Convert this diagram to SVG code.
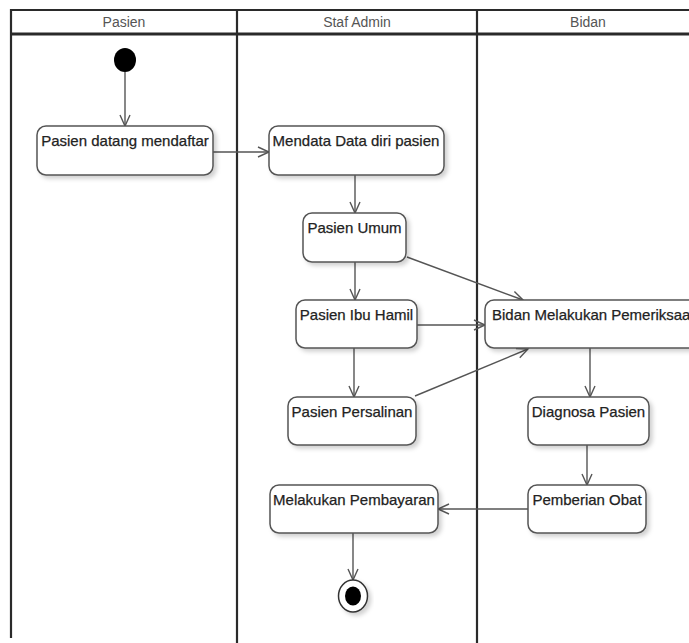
<svg xmlns="http://www.w3.org/2000/svg" width="689" height="643" viewBox="0 0 689 643">
<style>
.lane{stroke:#2a2a2a;stroke-width:2.2;fill:none}
.hdr{font-family:"Liberation Sans",Arial,sans-serif;font-size:14px;fill:#555;text-anchor:middle}
.box{fill:#fff;stroke:#555;stroke-width:1.5;filter:url(#sh)}
.lbl{font-family:"Liberation Sans",Arial,sans-serif;font-size:15px;fill:#222;text-anchor:middle;stroke:#222;stroke-width:0.25}
.con{stroke:#555;stroke-width:1.4;fill:none;marker-end:url(#arr)}
</style>
<defs>
<filter id="sh" x="-10%" y="-20%" width="130%" height="150%">
<feDropShadow dx="3" dy="3" stdDeviation="2" flood-color="#000" flood-opacity="0.18"/>
</filter>
<marker id="arr" markerUnits="userSpaceOnUse" markerWidth="14" markerHeight="14" viewBox="0 0 14 14" refX="12" refY="7" orient="auto">
<path d="M1,2 L12,7 L1,12" fill="none" stroke="#555" stroke-width="1.4"/>
</marker>
</defs>
<rect width="689" height="643" fill="#fff"/>
<g id="lanes">
<line class="lane" x1="11" y1="10" x2="689" y2="10"/>
<line class="lane" x1="11" y1="34" x2="689" y2="34" style="stroke-width:2.8"/>
<line class="lane" x1="11" y1="9" x2="11" y2="638"/>
<line class="lane" x1="237" y1="9" x2="237" y2="643"/>
<line class="lane" x1="477" y1="9" x2="477" y2="643"/>
<text class="hdr" x="124" y="27">Pasien</text>
<text class="hdr" x="357" y="27">Staf Admin</text>
<text class="hdr" x="588" y="27">Bidan</text>
</g>
<g id="connectors">
<line class="con" x1="125" y1="72" x2="125" y2="126"/>
<line class="con" x1="213" y1="152" x2="269" y2="152"/>
<line class="con" x1="355" y1="175" x2="355" y2="213"/>
<line class="con" x1="407" y1="257" x2="523" y2="300"/>
<line class="con" x1="355" y1="262" x2="355" y2="300"/>
<line class="con" x1="417" y1="325" x2="485" y2="325"/>
<line class="con" x1="354" y1="348" x2="354" y2="397"/>
<line class="con" x1="415" y1="396" x2="528" y2="349"/>
<line class="con" x1="590" y1="348" x2="590" y2="397"/>
<line class="con" x1="587" y1="445" x2="587" y2="485"/>
<line class="con" x1="528" y1="509" x2="438" y2="509"/>
<line class="con" x1="353" y1="533" x2="353" y2="580"/>
</g>
<g id="start"><ellipse cx="125" cy="60" rx="11" ry="12" fill="#000"/></g>
<g id="n1"><rect class="box" x="37" y="126" width="176" height="49" rx="9"/><text class="lbl" x="125" y="146">Pasien datang mendaftar</text></g>
<g id="n2"><rect class="box" x="269" y="126" width="175" height="49" rx="9"/><text class="lbl" x="356" y="146">Mendata Data diri pasien</text></g>
<g id="n3"><rect class="box" x="303" y="213" width="103" height="49" rx="9"/><text class="lbl" x="354.5" y="233">Pasien Umum</text></g>
<g id="n4"><rect class="box" x="296" y="300" width="121" height="48" rx="9"/><text class="lbl" x="356.5" y="320">Pasien Ibu Hamil</text></g>
<g id="n5"><rect class="box" x="288" y="397" width="128" height="48" rx="9"/><text class="lbl" x="352" y="417">Pasien Persalinan</text></g>
<g id="n6"><rect class="box" x="485" y="300" width="222" height="48" rx="9"/><text class="lbl" x="492" y="320" style="text-anchor:start">Bidan Melakukan Pemeriksaan</text></g>
<g id="n7"><rect class="box" x="528" y="397" width="121" height="48" rx="9"/><text class="lbl" x="588.5" y="417">Diagnosa Pasien</text></g>
<g id="n8"><rect class="box" x="270" y="485" width="168" height="48" rx="9"/><text class="lbl" x="354" y="505">Melakukan Pembayaran</text></g>
<g id="n9"><rect class="box" x="528" y="485" width="118" height="48" rx="9"/><text class="lbl" x="587" y="505">Pemberian Obat</text></g>
<g id="end"><ellipse cx="353" cy="596" rx="14.5" ry="16" fill="#fff" stroke="#333" stroke-width="1.5" filter="url(#sh)"/><ellipse cx="353" cy="596" rx="8" ry="9.5" fill="#000"/></g>
</svg>
